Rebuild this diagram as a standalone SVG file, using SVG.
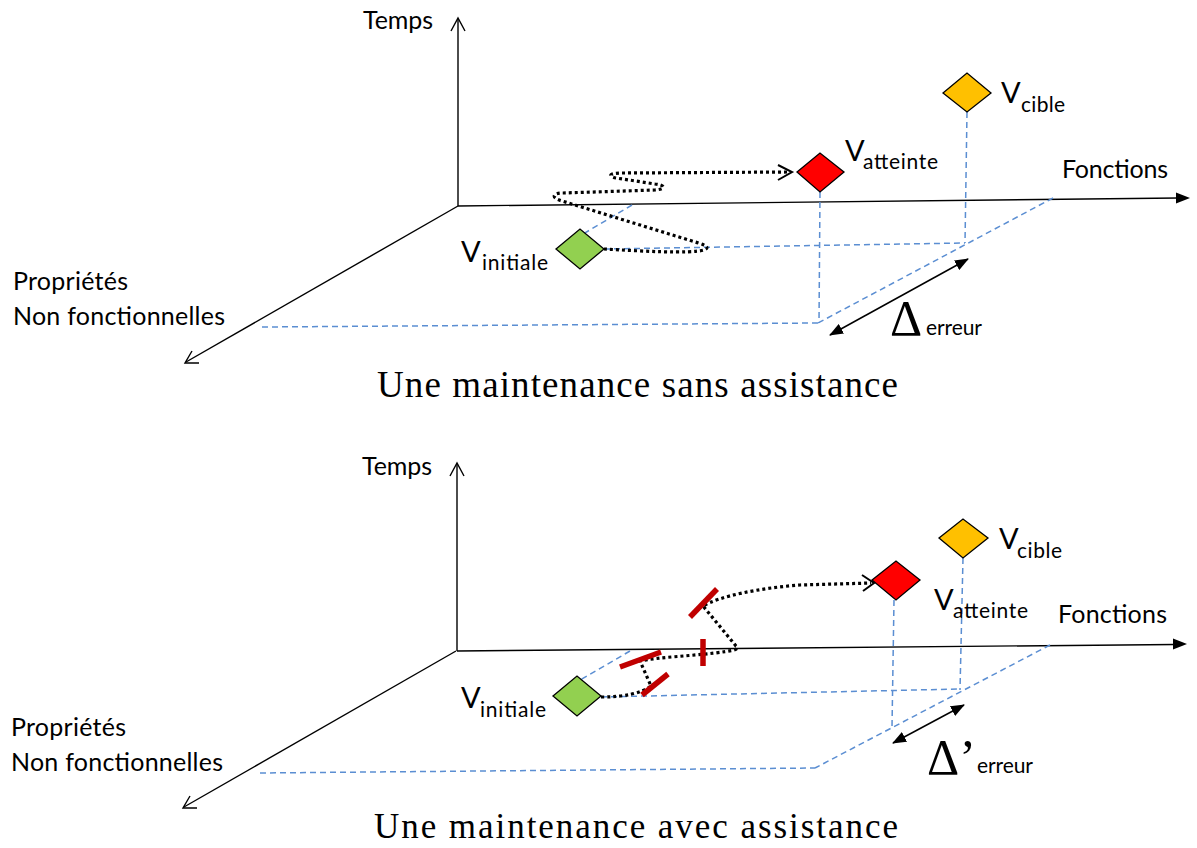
<svg xmlns="http://www.w3.org/2000/svg" width="1197" height="848" viewBox="0 0 1197 848">
<style>
.ax{stroke:#000;stroke-width:1.4;fill:none}
.dash{stroke:#5B8ED2;stroke-width:1.5;stroke-dasharray:6 4;fill:none}
.dot{stroke:#000;stroke-width:3.2;stroke-dasharray:3 3;fill:none}
.oh{stroke:#000;stroke-width:2;fill:none}
.bar{stroke:#C00000;stroke-width:5.5;fill:none}
.dm{stroke:#000;stroke-width:1.3}
.lbl{font-family:Lato,"Liberation Sans",sans-serif;fill:#000}
.ax-l{font-size:25px}
.v{font-size:29px}
.sub{font-size:21px}
.cap{font-family:"Liberation Serif",serif;font-size:37px;fill:#000}
.cap2{font-family:"Liberation Serif",serif;font-size:35px;fill:#000}
.delta{font-family:"Liberation Serif",serif;font-size:50px;fill:#000}
</style>
<defs>
<marker id="fa" viewBox="0 0 14 11" refX="13" refY="5.5" markerWidth="14" markerHeight="11" markerUnits="userSpaceOnUse" orient="auto-start-reverse">
<path d="M0,0 L14,5.5 L0,11 Z" fill="#000"/>
</marker>
</defs>
<rect width="1197" height="848" fill="#fff"/>

<!-- ===== TOP DIAGRAM ===== -->
<g id="axes-top">
<path class="ax" d="M458,206 L458,19"/>
<polyline class="ax" points="451,31 458,18 465,31"/>
<path class="ax" d="M458,206 L1178,198"/>
<polygon points="1190,198 1176,192.5 1176,203.5" fill="#000"/>
<path class="ax" d="M458,206 L186,362"/>
<polyline class="ax" points="192,351 185,363 199,363"/>
<text class="lbl ax-l" x="363" y="29" textLength="70">Temps</text>
<text class="lbl ax-l" x="1062" y="178" textLength="106">Fonctions</text>
<text class="lbl ax-l" x="13" y="290" textLength="115">Propriétés</text>
<text class="lbl ax-l" x="13" y="325" textLength="212">Non fonctionnelles</text>
</g>

<g id="connectors-top">
<path class="dash" d="M967,112 L965,243"/>
<path class="dash" d="M604,249 L965,243"/>
<path class="dash" d="M1053,198 L818,323"/>
<path class="dash" d="M820,192 L819,323"/>
<path class="dash" d="M262,327 L818,323"/>
<path class="dash" d="M632,205 L578,237"/>
<path class="dot" d="M604,249 C640,251 690,254 704,250 C712,247 702,244 692,241 L562,201 C551,198 552,193 563,193 L655,190 C667,189 665,185 655,184 L616,178 C607,176 610,173 622,173 L790,172"/>
<polyline class="oh" points="778,165 792,172 778,180"/>
<path d="M830,335 L968,259" stroke="#000" stroke-width="1.5" marker-start="url(#fa)" marker-end="url(#fa)"/>
</g>

<g id="v-initiale-top">
<polygon class="dm" points="556,249 580,229 604,249 580,269" fill="#92D050"/>
<text class="lbl v" x="461" y="262">V</text>
<text class="lbl sub" x="482" y="270" textLength="66">initiale</text>
</g>
<g id="v-atteinte-top">
<polygon class="dm" points="797,172 820,153 844,172 820,192" fill="#FF0000"/>
<text class="lbl v" x="845" y="161">V</text>
<text class="lbl sub" x="863" y="169" textLength="75">atteinte</text>
</g>
<g id="v-cible-top">
<polygon class="dm" points="943,93 967,73 991,93 967,112" fill="#FFC000"/>
<text class="lbl v" x="1001" y="103">V</text>
<text class="lbl sub" x="1021" y="112" textLength="44">cible</text>
</g>
<g id="delta-top">
<text class="delta" x="890" y="335">Δ</text>
<text class="lbl sub" x="926" y="335" textLength="56">erreur</text>
</g>
<text class="cap" x="377" y="397" textLength="521">Une maintenance sans assistance</text>

<!-- ===== BOTTOM DIAGRAM ===== -->
<g id="axes-bottom">
<path class="ax" d="M457,651 L457,464"/>
<polyline class="ax" points="450,476 457,463 464,476"/>
<path class="ax" d="M457,651 L1175,644.5"/>
<polygon points="1187,644 1173,638.5 1173,649.5" fill="#000"/>
<path class="ax" d="M456,651 L184,807"/>
<polyline class="ax" points="190,796 183,808 197,808"/>
<text class="lbl ax-l" x="362" y="475" textLength="70">Temps</text>
<text class="lbl ax-l" x="1058" y="623" textLength="109">Fonctions</text>
<text class="lbl ax-l" x="11" y="736" textLength="115">Propriétés</text>
<text class="lbl ax-l" x="11" y="771" textLength="212">Non fonctionnelles</text>
</g>

<g id="connectors-bottom">
<path class="dash" d="M963,558 L960,690"/>
<path class="dash" d="M601,697 L960,689"/>
<path class="dash" d="M1050,645 L815,768"/>
<path class="dash" d="M894,600 L892,727"/>
<path class="dash" d="M260,773 L815,768"/>
<path class="dash" d="M630,651 L575,683"/>
<path class="dot" d="M601,697 C625,697 642,693 651,686 L640,661 C660,657 690,656 715,653 C730,651 741,650 736,646 L703,606 C720,596 760,588 800,585 L871,583"/>
<polyline class="oh" points="862,575 874,583 863,591"/>
<g id="barriers">
<line class="bar" x1="642" y1="695" x2="668" y2="674"/>
<line class="bar" x1="620" y1="667" x2="661" y2="652"/>
<line class="bar" x1="703" y1="639" x2="703" y2="666"/>
<line class="bar" x1="690" y1="617" x2="717" y2="589"/>
</g>
<path d="M893,743 L964,705" stroke="#000" stroke-width="1.5" marker-start="url(#fa)" marker-end="url(#fa)"/>
</g>

<g id="v-initiale-bottom">
<polygon class="dm" points="553,696 577,676 601,696 577,716" fill="#92D050"/>
<text class="lbl v" x="461" y="708">V</text>
<text class="lbl sub" x="480" y="717" textLength="66">initiale</text>
</g>
<g id="v-atteinte-bottom">
<polygon class="dm" points="872,580 896,561 920,580 896,600" fill="#FF0000"/>
<text class="lbl v" x="934" y="610">V</text>
<text class="lbl sub" x="953" y="618" textLength="75">atteinte</text>
</g>
<g id="v-cible-bottom">
<polygon class="dm" points="939,538 963,519 988,538 963,558" fill="#FFC000"/>
<text class="lbl v" x="999" y="549">V</text>
<text class="lbl sub" x="1017" y="558" textLength="45">cible</text>
</g>
<g id="delta-bottom">
<text class="delta" x="927" y="774">Δ’</text>
<text class="lbl sub" x="977" y="773" textLength="56">erreur</text>
</g>
<text class="cap2" x="374" y="838" textLength="524">Une maintenance avec assistance</text>
</svg>
